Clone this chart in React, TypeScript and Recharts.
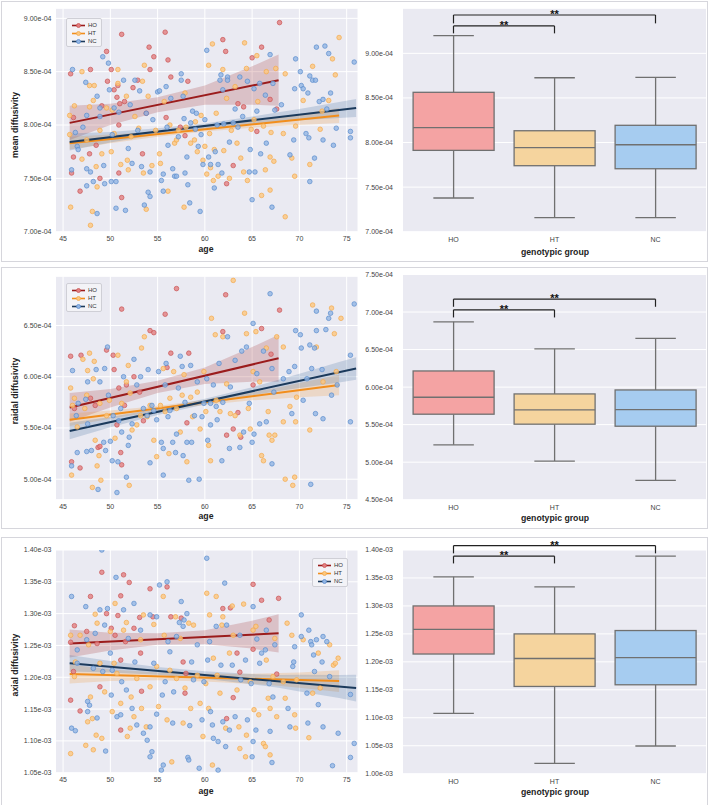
import React from 'react'
import {
  ComposedChart, BarChart, Bar, Scatter, Line, Area, XAxis, YAxis, CartesianGrid, ReferenceLine,
} from 'recharts'

type Pt = [number, number]

const GROUPS = ['HO', 'HT', 'NC']
const AGE_TICKS = [45, 50, 55, 60, 65, 70, 75]
const BAND_AGES = [45.7, 50, 55, 60, 65, 67.8, 70, 74.2, 76.0]

// ---- mean diffusivity (x1e-4)
const MD_HO: Pt[] = [[45.8,8.48],[46.1,8.07],[46.1,7.70],[45.9,7.55],[46.8,7.38],[47.9,8.52],[47.8,7.73],[48.5,7.81],[48.9,7.50],[49.1,8.18],[49.6,8.69],[49.7,8.41],[50.1,8.52],[50.4,8.33],[50.7,8.26],[50.8,8.37],[50.9,8.00],[50.9,7.55],[51.2,8.85],[51.2,7.32],[51.5,8.22],[51.0,8.20],[52.4,8.35],[52.9,8.42],[53.8,8.11],[54.1,8.73],[54.2,8.52],[54.6,8.64],[53.4,7.73],[55.8,8.87],[56.1,8.61],[55.9,8.07],[56.4,8.45],[57.4,7.98],[58.2,8.41],[57.9,7.90],[61.9,8.80],[62.2,8.69],[62.3,7.45],[63.0,7.62],[63.5,8.20],[64.1,8.17],[65.0,8.63],[66.0,8.73],[66.9,8.24],[67.6,8.15],[67.9,8.96],[65.5,7.94]]
const MD_HT: Pt[] = [[45.7,8.09],[45.8,7.23],[46.2,8.18],[45.7,7.91],[47.0,8.50],[47.0,7.68],[47.5,7.86],[47.8,8.37],[47.8,8.17],[48.1,7.19],[47.9,7.06],[48.3,8.37],[48.2,8.23],[48.5,7.61],[48.6,7.42],[48.9,7.95],[49.1,7.73],[49.6,8.16],[50.1,7.75],[50.2,8.14],[50.4,7.92],[50.8,8.52],[50.8,8.39],[51.1,7.63],[51.7,8.27],[51.9,7.58],[51.8,7.67],[52.2,7.89],[52.6,8.08],[53.0,7.97],[53.4,8.41],[53.5,7.55],[53.8,7.21],[53.6,8.56],[54.0,8.27],[54.4,7.62],[54.8,7.95],[55.2,7.73],[55.3,7.64],[55.7,8.22],[56.1,7.38],[56.3,8.00],[57.2,7.95],[57.9,8.30],[57.8,7.23],[58.5,7.83],[58.9,7.86],[59.2,7.75],[59.6,8.09],[60.2,7.54],[60.4,8.56],[60.5,7.92],[60.8,8.76],[60.9,7.48],[61.2,8.11],[61.4,7.52],[61.9,8.52],[62.3,8.25],[62.6,7.50],[63.4,7.83],[63.8,7.69],[64.1,7.56],[64.2,8.77],[64.4,8.53],[64.5,7.48],[64.9,7.96],[65.5,8.65],[65.6,8.22],[66.0,7.34],[66.4,7.58],[66.5,8.50],[66.9,7.70],[66.9,7.39],[67.3,7.66],[67.5,8.53],[68.5,8.48],[68.5,7.14],[68.3,7.92],[69.2,7.69],[69.5,7.52],[69.6,7.99],[70.4,8.23],[71.1,7.63],[71.4,8.55],[72.2,7.96],[72.4,8.13],[73.1,8.23],[73.5,8.62],[73.8,8.47],[74.2,8.82],[56.8,7.83],[57.0,7.86],[58.0,7.98],[59.0,8.03],[60.0,7.80],[61.0,7.77],[62.0,7.76],[62.8,7.95],[63.2,8.36],[65.2,8.05],[66.2,7.99],[67.0,7.93],[60.6,7.60],[59.8,7.67]]
const MD_NC: Pt[] = [[46.0,8.52],[45.9,7.58],[46.3,7.93],[46.5,7.80],[46.6,7.77],[47.1,7.98],[47.4,8.40],[47.5,8.09],[47.5,7.59],[47.5,7.43],[47.9,7.56],[48.2,7.47],[48.6,8.27],[48.6,7.17],[48.9,8.16],[48.9,8.08],[49.2,8.64],[49.3,7.62],[49.4,7.45],[49.8,8.58],[49.9,8.33],[50.1,7.47],[50.2,7.91],[50.4,8.16],[50.6,7.47],[50.6,7.22],[50.9,8.12],[51.4,8.42],[51.6,7.20],[52.1,8.19],[51.9,7.78],[52.3,7.64],[52.6,8.42],[52.9,7.95],[53.1,8.32],[53.3,7.61],[53.6,7.25],[53.8,8.11],[54.0,7.37],[54.2,7.56],[54.2,7.33],[54.5,8.05],[55.0,8.31],[55.2,8.32],[55.4,7.48],[55.6,7.54],[55.6,7.38],[55.9,8.36],[56.1,7.81],[56.4,8.25],[56.6,7.59],[56.8,7.52],[57.0,7.52],[57.2,7.89],[57.5,8.48],[57.5,8.42],[57.7,8.27],[57.9,7.55],[58.1,7.70],[58.2,7.44],[58.4,7.27],[58.7,8.13],[59.1,8.11],[59.3,7.80],[59.5,7.19],[59.6,7.91],[59.8,7.63],[60.2,8.70],[60.4,7.70],[60.6,7.63],[61.0,7.41],[61.1,7.75],[61.3,8.00],[61.4,7.63],[61.6,8.42],[61.7,8.47],[61.8,7.55],[61.9,8.33],[62.4,8.45],[62.4,8.42],[62.6,7.84],[63.0,8.02],[63.2,8.15],[63.7,8.45],[64.5,8.41],[64.7,7.56],[64.8,7.77],[65.0,7.30],[65.2,8.34],[65.3,7.56],[65.5,8.13],[65.8,8.39],[65.9,7.73],[66.4,8.28],[66.5,7.83],[66.9,8.66],[67.1,7.23],[67.2,8.39],[67.4,8.14],[68.1,8.19],[69.0,7.72],[69.4,7.86],[69.5,8.34],[69.6,8.62],[70.1,8.50],[70.2,8.37],[70.4,8.34],[70.7,7.92],[70.9,8.30],[71.0,7.88],[71.1,8.46],[71.1,7.47],[71.4,8.42],[71.6,7.69],[71.7,8.42],[71.8,8.73],[72.1,8.22],[72.5,8.24],[72.5,7.86],[72.7,8.74],[72.9,8.15],[73.1,8.67],[73.3,8.30],[73.6,7.81],[73.9,7.97],[75.4,7.94],[75.4,7.88],[75.8,8.59],[56.0,7.98],[58.5,8.02],[60.0,8.05],[62.0,8.01],[63.5,7.98],[64.0,8.08],[59.0,7.96],[57.8,8.06]]
const MD_HO_LINE: Pt[] = [[45.7, 8.02], [67.8, 8.42]]
const MD_HT_LINE: Pt[] = [[45.7, 7.83], [74.2, 8.09]]
const MD_NC_LINE: Pt[] = [[45.7, 7.84], [76.0, 8.16]]
const MD_HO_BAND: Pt[] = [[7.86,8.18],[8.00,8.20],[8.12,8.26],[8.19,8.37],[8.19,8.55],[8.18,8.66]]
const MD_HT_BAND: Pt[] = [[7.77,7.89],[7.83,7.91],[7.89,7.94],[7.94,7.98],[7.975,8.035],[7.99,8.07],[8.00,8.10],[8.02,8.16]]
const MD_NC_BAND: Pt[] = [[7.76,7.92],[7.835,7.935],[7.91,7.97],[7.965,8.015],[8.01,8.08],[8.03,8.12],[8.045,8.15],[8.065,8.215],[8.075,8.245]]
// box stats: low whisker, q1, median, q3, high whisker
const MD_BOX = [[7.378,7.912,8.166,8.563,9.198],[7.157,7.74,7.942,8.132,8.726],[7.157,7.706,7.975,8.193,8.73]]

// ---- radial diffusivity (x1e-4)
const RD_HO: Pt[] = [[45.8,6.20],[45.9,5.17],[46.2,5.69],[46.8,5.11],[46.9,6.21],[47.9,5.79],[48.4,5.72],[48.7,5.31],[48.9,5.32],[49.6,6.26],[50.3,6.21],[50.4,6.07],[50.7,5.53],[50.9,5.89],[51.1,5.26],[51.2,6.66],[51.2,5.14],[51.5,5.72],[51.7,5.92],[52.5,6.00],[53.1,5.85],[53.5,5.57],[54.2,6.45],[54.6,6.43],[55.8,6.61],[56.0,6.09],[56.4,6.23],[57.0,6.86],[58.1,5.55],[58.3,6.23],[61.9,6.44],[62.2,6.80],[62.3,5.43],[63.0,5.49],[63.5,5.65],[63.8,5.41],[65.1,5.92],[66.0,6.47],[67.0,6.22],[67.9,6.65]]
const RD_HT: Pt[] = [[45.8,5.89],[45.9,5.04],[46.0,5.72],[46.2,5.79],[46.5,5.51],[47.1,6.17],[47.3,5.69],[47.5,5.82],[47.6,6.06],[47.8,6.23],[48.1,4.92],[48.2,5.98],[48.3,6.15],[48.4,5.38],[48.6,5.13],[48.8,5.23],[48.9,5.74],[49.0,4.99],[49.6,5.62],[49.9,5.77],[50.5,5.40],[50.8,6.21],[51.2,5.74],[51.7,5.95],[51.9,6.11],[52.0,4.94],[52.1,5.84],[52.3,5.48],[52.8,5.53],[53.2,5.62],[53.3,6.28],[53.6,6.39],[53.9,5.61],[54.2,5.72],[54.6,5.38],[54.9,5.22],[55.3,5.72],[55.6,6.08],[55.8,5.66],[56.2,5.25],[56.3,5.79],[56.7,6.05],[57.0,5.69],[57.4,5.46],[57.6,5.82],[57.8,6.02],[58.1,5.17],[58.5,5.80],[58.7,5.61],[59.2,5.85],[59.5,5.49],[59.9,6.05],[60.1,5.66],[60.4,5.33],[60.7,6.57],[60.6,5.18],[61.1,6.41],[61.2,5.77],[61.6,5.66],[61.9,6.39],[62.3,5.93],[62.7,5.64],[63.0,6.94],[63.2,5.62],[63.7,5.43],[64.2,6.62],[64.4,6.42],[64.6,5.69],[64.8,5.49],[65.1,6.05],[65.4,6.44],[65.8,5.95],[66.0,5.23],[66.2,5.18],[66.5,6.28],[66.7,5.66],[66.8,5.43],[67.1,5.38],[67.4,5.43],[67.6,6.39],[68.3,6.29],[68.3,5.56],[68.5,5.00],[69.0,5.71],[69.3,4.94],[69.5,5.02],[69.6,5.56],[69.7,5.80],[71.4,6.70],[71.8,6.29],[71.1,5.48],[72.5,5.95],[73.4,6.67],[73.7,6.42],[73.9,6.05],[74.4,6.57]]
const RD_NC: Pt[] = [[46.0,6.06],[45.9,5.13],[46.4,5.62],[46.6,5.74],[46.5,5.26],[47.4,5.78],[47.6,5.54],[47.5,5.27],[47.6,5.95],[48.0,5.28],[48.5,6.07],[48.7,4.90],[48.9,5.95],[49.3,5.36],[49.4,6.08],[49.5,5.28],[49.7,6.29],[49.8,5.82],[50.0,5.37],[50.2,5.18],[50.3,5.62],[50.7,4.87],[50.8,5.17],[50.9,5.57],[51.1,5.69],[51.2,5.46],[51.4,6.00],[51.7,5.02],[51.9,5.33],[52.0,5.41],[52.3,5.54],[52.5,6.17],[52.8,5.92],[53.2,6.00],[53.5,5.69],[53.9,5.62],[54.0,6.07],[54.2,5.16],[54.4,5.72],[54.6,5.67],[54.9,5.58],[55.1,6.05],[55.4,5.36],[55.6,5.04],[55.6,5.30],[55.8,5.92],[55.9,6.13],[56.1,5.61],[56.3,5.67],[56.6,5.36],[56.9,5.26],[57.0,5.44],[57.2,5.89],[57.4,6.20],[57.6,6.10],[57.7,5.23],[57.9,5.75],[58.1,5.36],[58.3,4.99],[58.5,6.11],[58.6,5.36],[58.9,5.62],[59.2,5.95],[59.4,5.00],[59.7,5.61],[59.9,5.74],[60.2,5.98],[60.3,5.38],[60.6,5.53],[60.6,5.74],[60.9,5.92],[61.2,5.71],[61.3,5.58],[61.5,6.13],[61.8,5.18],[61.9,5.75],[62.4,6.39],[62.6,5.30],[62.7,5.90],[63.2,6.16],[63.7,5.31],[63.9,6.25],[64.1,5.46],[64.4,6.29],[64.7,5.74],[65.0,5.36],[65.1,6.52],[65.2,5.44],[65.5,6.03],[65.8,5.54],[66.2,6.25],[66.5,5.56],[66.9,6.81],[67.1,6.08],[67.1,5.15],[67.3,5.85],[68.3,5.98],[68.9,6.05],[69.2,5.64],[69.5,6.10],[69.6,6.45],[70.1,6.41],[70.2,6.28],[70.4,5.77],[70.8,5.98],[71.1,6.31],[71.2,4.95],[71.3,6.08],[71.6,6.28],[71.7,5.64],[71.8,6.64],[71.8,6.45],[72.4,6.07],[72.5,5.59],[72.8,6.46],[73.1,6.57],[73.4,5.82],[74.0,5.92],[75.4,5.56],[75.4,6.21],[75.8,6.71],[73.3,6.62]]
const RD_HO_LINE: Pt[] = [[45.7, 5.70], [67.8, 6.18]]
const RD_HT_LINE: Pt[] = [[45.7, 5.58], [74.2, 5.92]]
const RD_NC_LINE: Pt[] = [[45.7, 5.47], [76.0, 6.08]]
const RD_HO_BAND: Pt[] = [[5.56,5.84],[5.70,5.88],[5.84,5.96],[5.93,6.09],[5.95,6.29],[5.95,6.41]]
const RD_HT_BAND: Pt[] = [[5.52,5.64],[5.59,5.67],[5.665,5.715],[5.725,5.775],[5.77,5.85],[5.785,5.895],[5.80,5.94],[5.82,6.02]]
const RD_NC_BAND: Pt[] = [[5.39,5.55],[5.507,5.607],[5.627,5.687],[5.73,5.786],[5.818,5.898],[5.86,5.97],[5.889,6.029],[5.944,6.144],[5.97,6.19]]
const RD_BOX = [[5.231,5.639,5.865,6.215,6.87],[5.014,5.506,5.696,5.909,6.51],[4.757,5.479,5.70,5.962,6.649]]

// ---- axial diffusivity (x1e-3)
const AD_HO: Pt[] = [[45.8,1.255],[45.8,1.164],[46.2,1.281],[46.1,1.209],[46.8,1.147],[47.5,1.272],[47.9,1.327],[48.6,1.253],[48.9,1.185],[49.1,1.365],[49.6,1.300],[50.1,1.277],[50.5,1.266],[50.8,1.297],[51.1,1.227],[51.1,1.117],[51.1,1.328],[51.4,1.361],[51.6,1.256],[52.0,1.349],[52.5,1.277],[53.1,1.294],[53.2,1.238],[53.3,1.178],[54.2,1.339],[54.5,1.295],[56.0,1.342],[56.4,1.295],[57.5,1.293],[57.7,1.224],[58.0,1.206],[57.9,1.175],[61.9,1.308],[62.3,1.135],[62.7,1.309],[63.0,1.168],[63.4,1.238],[63.7,1.208],[65.1,1.346],[65.1,1.244],[66.0,1.321],[66.8,1.290],[67.6,1.205],[67.8,1.324]]
const AD_HT: Pt[] = [[45.8,1.266],[45.8,1.080],[46.2,1.201],[46.3,1.224],[46.8,1.266],[47.4,1.093],[47.6,1.130],[47.7,1.251],[47.9,1.169],[48.1,1.135],[48.2,1.086],[48.4,1.299],[48.5,1.109],[48.6,1.285],[48.9,1.222],[49.1,1.104],[49.4,1.177],[50.0,1.272],[50.2,1.146],[50.4,1.222],[50.5,1.316],[50.7,1.206],[51.1,1.159],[51.4,1.274],[51.7,1.286],[51.8,1.107],[52.1,1.120],[52.2,1.169],[52.5,1.138],[52.8,1.198],[53.2,1.259],[53.3,1.151],[53.5,1.298],[53.8,1.122],[54.2,1.185],[54.6,1.283],[54.9,1.217],[55.1,1.154],[55.6,1.327],[55.7,1.266],[56.0,1.133],[56.3,1.211],[56.5,1.067],[56.9,1.295],[57.0,1.198],[57.4,1.261],[57.7,1.128],[57.9,1.183],[58.3,1.285],[58.5,1.151],[58.8,1.282],[59.2,1.203],[59.5,1.159],[59.8,1.107],[60.1,1.190],[60.2,1.332],[60.4,1.151],[60.5,1.298],[60.8,1.062],[60.9,1.230],[61.2,1.327],[61.3,1.203],[61.6,1.175],[61.8,1.282],[61.9,1.295],[62.2,1.120],[62.6,1.238],[62.9,1.312],[63.0,1.266],[63.4,1.180],[63.6,1.122],[63.7,1.088],[64.1,1.315],[64.3,1.075],[64.4,1.109],[64.8,1.193],[65.1,1.274],[65.2,1.149],[65.4,1.280],[65.7,1.141],[66.2,1.096],[66.4,1.091],[66.5,1.227],[66.7,1.167],[66.9,1.078],[66.9,1.151],[67.2,1.201],[67.4,1.261],[67.6,1.138],[68.3,1.193],[68.5,1.167],[68.7,1.285],[69.2,1.266],[69.5,1.141],[69.6,1.120],[69.7,1.196],[70.4,1.259],[71.0,1.105],[71.4,1.175],[72.0,1.238],[72.2,1.183],[73.2,1.251],[73.6,1.219],[73.8,1.222],[74.1,1.230]]
const AD_NC: Pt[] = [[45.9,1.327],[45.9,1.120],[46.3,1.116],[46.5,1.243],[46.5,1.222],[47.4,1.311],[47.5,1.259],[47.6,1.162],[47.6,1.146],[47.8,1.156],[48.2,1.214],[48.4,1.269],[48.6,1.136],[48.9,1.306],[49.1,1.400],[49.2,1.209],[49.4,1.282],[49.5,1.084],[49.7,1.308],[50.0,1.238],[50.1,1.172],[50.2,1.211],[50.6,1.357],[50.7,1.138],[51.1,1.141],[51.2,1.193],[51.4,1.306],[51.7,1.180],[51.9,1.261],[52.3,1.151],[52.5,1.316],[52.6,1.224],[52.8,1.125],[53.2,1.274],[53.5,1.112],[53.9,1.101],[54.2,1.298],[54.2,1.075],[54.2,1.122],[54.4,1.083],[54.6,1.222],[54.9,1.295],[54.9,1.142],[55.2,1.345],[55.5,1.172],[55.6,1.062],[55.4,1.054],[55.8,1.193],[56.0,1.350],[56.1,1.256],[56.3,1.240],[56.6,1.128],[56.7,1.177],[57.0,1.264],[57.3,1.286],[57.5,1.319],[57.7,1.280],[57.8,1.290],[58.1,1.300],[58.2,1.074],[58.3,1.070],[58.4,1.124],[58.6,1.224],[58.8,1.196],[59.2,1.251],[59.4,1.057],[59.7,1.133],[59.9,1.193],[60.2,1.387],[60.3,1.227],[60.5,1.256],[60.6,1.146],[60.8,1.125],[60.9,1.104],[61.2,1.280],[61.4,1.054],[61.4,1.099],[61.7,1.219],[61.9,1.130],[62.1,1.348],[62.2,1.091],[62.3,1.282],[62.6,1.117],[62.9,1.219],[63.2,1.138],[63.7,1.266],[63.8,1.196],[64.3,1.227],[64.5,1.133],[64.9,1.190],[65.0,1.075],[65.1,1.311],[65.1,1.099],[65.4,1.117],[65.5,1.260],[65.8,1.222],[66.0,1.238],[66.4,1.243],[66.5,1.274],[66.8,1.190],[66.9,1.115],[67.1,1.066],[67.2,1.169],[67.4,1.251],[68.8,1.151],[69.0,1.122],[69.3,1.217],[69.4,1.224],[69.5,1.248],[70.2,1.298],[70.2,1.264],[70.8,1.175],[70.9,1.128],[71.0,1.274],[71.2,1.256],[71.3,1.251],[71.5,1.235],[71.6,1.209],[71.8,1.259],[72.0,1.157],[72.4,1.224],[72.5,1.122],[72.5,1.264],[72.9,1.256],[73.2,1.201],[73.5,1.061],[74.1,1.112],[75.4,1.173],[75.4,1.074],[75.8,1.096]]
const AD_HO_LINE: Pt[] = [[45.7, 1.253], [67.8, 1.269]]
const AD_HT_LINE: Pt[] = [[45.7, 1.205], [74.2, 1.194]]
const AD_NC_LINE: Pt[] = [[45.7, 1.222], [76.0, 1.183]]
const AD_HO_BAND: Pt[] = [[1.231,1.275],[1.242,1.270],[1.251,1.269],[1.252,1.274],[1.245,1.289],[1.239,1.299]]
const AD_HT_BAND: Pt[] = [[1.190,1.220],[1.1943,1.2123],[1.1954,1.2074],[1.1935,1.2055],[1.1896,1.2056],[1.1865,1.2065],[1.1836,1.2076],[1.177,1.211]]
const AD_NC_BAND: Pt[] = [[1.209,1.235],[1.2075,1.2255],[1.204,1.216],[1.1976,1.2096],[1.189,1.205],[1.1835,1.2035],[1.1778,1.2038],[1.1674,1.2034],[1.162,1.204]]
const AD_BOX = [[1.108,1.214,1.258,1.300,1.352],[1.0185,1.156,1.206,1.250,1.334],[1.0495,1.159,1.2075,1.256,1.389]]

const FONT = '"Liberation Sans", Arial, sans-serif'
const BG = '#eaeaf2'
const EDGE = '#707070'

const STYLE: Record<string, { line: string; band: string; fill: string; stroke: string; box: string }> = {
  HO: { line: '#9b1c1c', band: '#9b1c1c', fill: '#e27e80', stroke: '#c95454', box: '#f4a3a3' },
  HT: { line: '#f28e1c', band: '#f28e1c', fill: '#fcc77e', stroke: '#f3a94c', box: '#f5d49e' },
  NC: { line: '#1b3a5c', band: '#2f5f96', fill: '#92b5e3', stroke: '#5a8ccd', box: '#a6ccf0' },
}

const expFmt = (exp: string) => (v: number) => `${v.toFixed(2)}e-${exp}`

function buildRows(lines: Pt[][], bands: Pt[][]) {
  return BAND_AGES.map((age, i) => {
    const row: Record<string, any> = { age }
    GROUPS.forEach((g, k) => {
      row[g + 'band'] = bands[k][i]
      const p = lines[k].find(l => l[0] === age)
      if (p) row[g + 'line'] = p[1]
    })
    return row
  })
}

const tickStyle = { fontSize: 7, fill: '#444', fontFamily: FONT }

function Dot(color: string, edge: string) {
  return (p: any) => (
    <circle cx={p.cx} cy={p.cy} r={2.3} fill={color} fillOpacity={0.8} stroke={edge} strokeWidth={0.7} />
  )
}

function ScatterPanel(props: {
  top: number; height: number; plotTop: number; plotBottom: number
  yDomain: [number, number]; yTicks: number[]; exp: string
  points: Pt[][]; lines: Pt[][]; bands: Pt[][]
}) {
  const { top, height, plotTop, plotBottom, yDomain, yTicks, exp, points, lines, bands } = props
  const rows = buildRows(lines, bands)
  return (
    <div style={{ position: 'absolute', left: 0, top }}>
      <ComposedChart width={360} height={height} data={rows}
        margin={{ top: plotTop - top, right: 2, left: 0, bottom: 0 }}>
        <CartesianGrid fill={BG} stroke="#fff" strokeWidth={1} />
        <XAxis type="number" dataKey="age" domain={[44.2, 76.2]} ticks={AGE_TICKS} allowDataOverflow
          height={top + height - plotBottom} tickLine={false} axisLine={false} tickSize={0} tickMargin={4} tick={tickStyle} />
        <YAxis type="number" domain={yDomain} ticks={yTicks} allowDataOverflow width={55.5}
          tickLine={false} axisLine={false} tickSize={0} tickMargin={4} tick={tickStyle} tickFormatter={expFmt(exp)} />
        {GROUPS.map((g, k) => [
          <Scatter key={g + 's'} data={points[k].map(([age, v]) => ({ age, v }))} dataKey="v"
            shape={Dot(STYLE[g].fill, STYLE[g].stroke)} isAnimationActive={false} />,
          <Area key={g + 'a'} dataKey={g + 'band'} stroke="none" fill={STYLE[g].band} fillOpacity={0.2}
            connectNulls isAnimationActive={false} dot={false} activeDot={false} />,
          <Line key={g + 'l'} dataKey={g + 'line'} stroke={STYLE[g].line} strokeWidth={2} connectNulls
            dot={false} activeDot={false} isAnimationActive={false} />,
        ])}
      </ComposedChart>
    </div>
  )
}

function BoxShape(p: any) {
  const { x, width, payload } = p
  const top = Math.min(p.y, p.y + p.height)
  const bottom = Math.max(p.y, p.y + p.height)
  const span = payload.high - payload.low
  const py = (v: number) => bottom - ((v - payload.low) / span) * (bottom - top)
  const cx = x + width / 2
  const cap = width / 4
  const sw = 1.3
  return (
    <g>
      <line x1={cx} x2={cx} y1={py(payload.high)} y2={py(payload.q3)} stroke={EDGE} strokeWidth={sw} />
      <line x1={cx} x2={cx} y1={py(payload.q1)} y2={py(payload.low)} stroke={EDGE} strokeWidth={sw} />
      <line x1={cx - cap} x2={cx + cap} y1={py(payload.high)} y2={py(payload.high)} stroke={EDGE} strokeWidth={sw} />
      <line x1={cx - cap} x2={cx + cap} y1={py(payload.low)} y2={py(payload.low)} stroke={EDGE} strokeWidth={sw} />
      <rect x={x} y={py(payload.q3)} width={width} height={py(payload.q1) - py(payload.q3)}
        fill={payload.fill} stroke={EDGE} strokeWidth={sw} />
      <line x1={x} x2={x + width} y1={py(payload.median)} y2={py(payload.median)} stroke={EDGE} strokeWidth={sw} />
    </g>
  )
}

function BoxPanel(props: {
  top: number; height: number; plotTop: number; plotBottom: number
  yDomain: [number, number]; yTicks: number[]; exp: string; stats: number[][]
  brackets: { to: string; y: number; tick: number }[]
}) {
  const { top, height, plotTop, plotBottom, yDomain, yTicks, exp, stats, brackets } = props
  const data = GROUPS.map((g, i) => {
    const [low, q1, median, q3, high] = stats[i]
    return { group: g, low, q1, median, q3, high, fill: STYLE[g].box }
  })
  const line = { stroke: '#222', strokeWidth: 1.2, ifOverflow: 'visible' as const }
  return (
    <div style={{ position: 'absolute', left: 356, top }}>
      <BarChart width={353} height={height} data={data} barCategoryGap="10%"
        margin={{ top: plotTop - top, right: 3, left: 0, bottom: 0 }}>
        <CartesianGrid fill={BG} stroke="#fff" strokeWidth={1} vertical={false} />
        <XAxis dataKey="group" height={top + height - plotBottom} tickLine={false} axisLine={false}
          tickSize={0} tickMargin={5} tick={tickStyle} />
        <YAxis type="number" domain={yDomain} ticks={yTicks} allowDataOverflow width={47}
          tickLine={false} axisLine={false} tickSize={0} tickMargin={10} tick={tickStyle} tickFormatter={expFmt(exp)} />
        <Bar dataKey={(d: any) => [d.low, d.high]} shape={BoxShape} isAnimationActive={false} />
        {brackets.map(b => [
          <ReferenceLine key={b.to + 'h'} segment={[{ x: 'HO', y: b.y }, { x: b.to, y: b.y }]} {...line}
            label={{ value: '**', position: 'top', offset: -3, fontSize: 11, fontWeight: 700, fill: '#111', fontFamily: FONT }} />,
          <ReferenceLine key={b.to + 'l'} segment={[{ x: 'HO', y: b.y }, { x: 'HO', y: b.tick }]} {...line} />,
          <ReferenceLine key={b.to + 'r'} segment={[{ x: b.to, y: b.y }, { x: b.to, y: b.tick }]} {...line} />,
        ])}
      </BarChart>
    </div>
  )
}

function LegendBox({ left, top }: { left: number; top: number }) {
  return (
    <div style={{
      position: 'absolute', left, top, width: 36, height: 29, boxSizing: 'border-box',
      background: '#f3f3f7', border: '1px solid #cfcfd6', borderRadius: 2,
    }}>
      {GROUPS.map((g, i) => (
        <div key={g} style={{ position: 'absolute', left: 4, top: 2.5 + i * 8.2, height: 7, display: 'flex', alignItems: 'center' }}>
          <svg width={15} height={7} style={{ display: 'block' }}>
            <line x1={1} x2={14} y1={3.5} y2={3.5} stroke={STYLE[g].line} strokeWidth={1.6} />
            <circle cx={7.5} cy={3.5} r={2} fill={STYLE[g].fill} stroke={STYLE[g].stroke} strokeWidth={0.8} />
          </svg>
          <span style={{ fontSize: 6, color: '#333', marginLeft: 2, fontFamily: FONT, lineHeight: '7px' }}>{g}</span>
        </div>
      ))}
    </div>
  )
}

function Title({ text, x, y, vertical }: { text: string; x: number; y: number; vertical?: boolean }) {
  return (
    <div style={{
      position: 'absolute', left: x, top: y, transform: `translate(-50%, -50%)${vertical ? ' rotate(-90deg)' : ''}`,
      fontSize: 8.7, fontWeight: 700, color: '#222', whiteSpace: 'nowrap', fontFamily: FONT, lineHeight: 1,
    }}>{text}</div>
  )
}

function Frame({ top, height }: { top: number; height: number }) {
  return <div style={{ position: 'absolute', left: 1, top, width: 707, height, boxSizing: 'border-box', border: '1px solid #d6d6dc' }} />
}

export default function App() {
  return (
    <div style={{ position: 'absolute', left: 0, top: 0, width: 709, height: 805, background: '#fff', overflow: 'hidden', fontFamily: FONT }}>
      <Frame top={1} height={261} />
      <Frame top={267} height={262} />
      <Frame top={537} height={270} />

      <ScatterPanel top={0} height={262} plotTop={8.3} plotBottom={231.7} yDomain={[7.0, 9.094]}
        yTicks={[7.0, 7.5, 8.0, 8.5, 9.0]} exp="04"
        points={[MD_HO, MD_HT, MD_NC]} lines={[MD_HO_LINE, MD_HT_LINE, MD_NC_LINE]} bands={[MD_HO_BAND, MD_HT_BAND, MD_NC_BAND]} />
      <BoxPanel top={0} height={262} plotTop={8.3} plotBottom={231.7} yDomain={[7.0, 9.505]}
        yTicks={[7.0, 7.5, 8.0, 8.5, 9.0]} exp="04" stats={MD_BOX}
        brackets={[{ to: 'NC', y: 9.43, tick: 9.336 }, { to: 'HT', y: 9.307, tick: 9.224 }]} />
      <LegendBox left={66} top={18} />
      <Title text="mean diffusivity" x={15} y={125} vertical />
      <Title text="age" x={206} y={249} />
      <Title text="genotypic group" x={555} y={252} />

      <ScatterPanel top={266} height={262} plotTop={276.3} plotBottom={499.7} yDomain={[4.8, 6.98]}
        yTicks={[5.0, 5.5, 6.0, 6.5]} exp="04"
        points={[RD_HO, RD_HT, RD_NC]} lines={[RD_HO_LINE, RD_HT_LINE, RD_NC_LINE]} bands={[RD_HO_BAND, RD_HT_BAND, RD_NC_BAND]} />
      <BoxPanel top={266} height={262} plotTop={274.5} plotBottom={499.7} yDomain={[4.5, 7.5]}
        yTicks={[4.5, 5.0, 5.5, 6.0, 6.5, 7.0, 7.5]} exp="04" stats={RD_BOX}
        brackets={[{ to: 'NC', y: 7.172, tick: 7.07 }, { to: 'HT', y: 7.03, tick: 6.928 }]} />
      <LegendBox left={66} top={283} />
      <Title text="raidal diffusivity" x={15} y={391} vertical />
      <Title text="age" x={206} y={516} />
      <Title text="genotypic group" x={555} y={518} />

      <ScatterPanel top={535} height={270} plotTop={550} plotBottom={772.7} yDomain={[1.05, 1.40]}
        yTicks={[1.05, 1.10, 1.15, 1.20, 1.25, 1.30, 1.35, 1.40]} exp="03"
        points={[AD_HO, AD_HT, AD_NC]} lines={[AD_HO_LINE, AD_HT_LINE, AD_NC_LINE]} bands={[AD_HO_BAND, AD_HT_BAND, AD_NC_BAND]} />
      <BoxPanel top={535} height={270} plotTop={550} plotBottom={773.7} yDomain={[1.0, 1.40]}
        yTicks={[1.0, 1.05, 1.10, 1.15, 1.20, 1.25, 1.30, 1.35, 1.40]} exp="03" stats={AD_BOX}
        brackets={[{ to: 'NC', y: 1.4078, tick: 1.394 }, { to: 'HT', y: 1.389, tick: 1.376 }]} />
      <LegendBox left={312} top={558} />
      <Title text="axial diffusivity" x={15} y={665} vertical />
      <Title text="age" x={206} y={791} />
      <Title text="genotypic group" x={555} y={792} />
    </div>
  )
}
